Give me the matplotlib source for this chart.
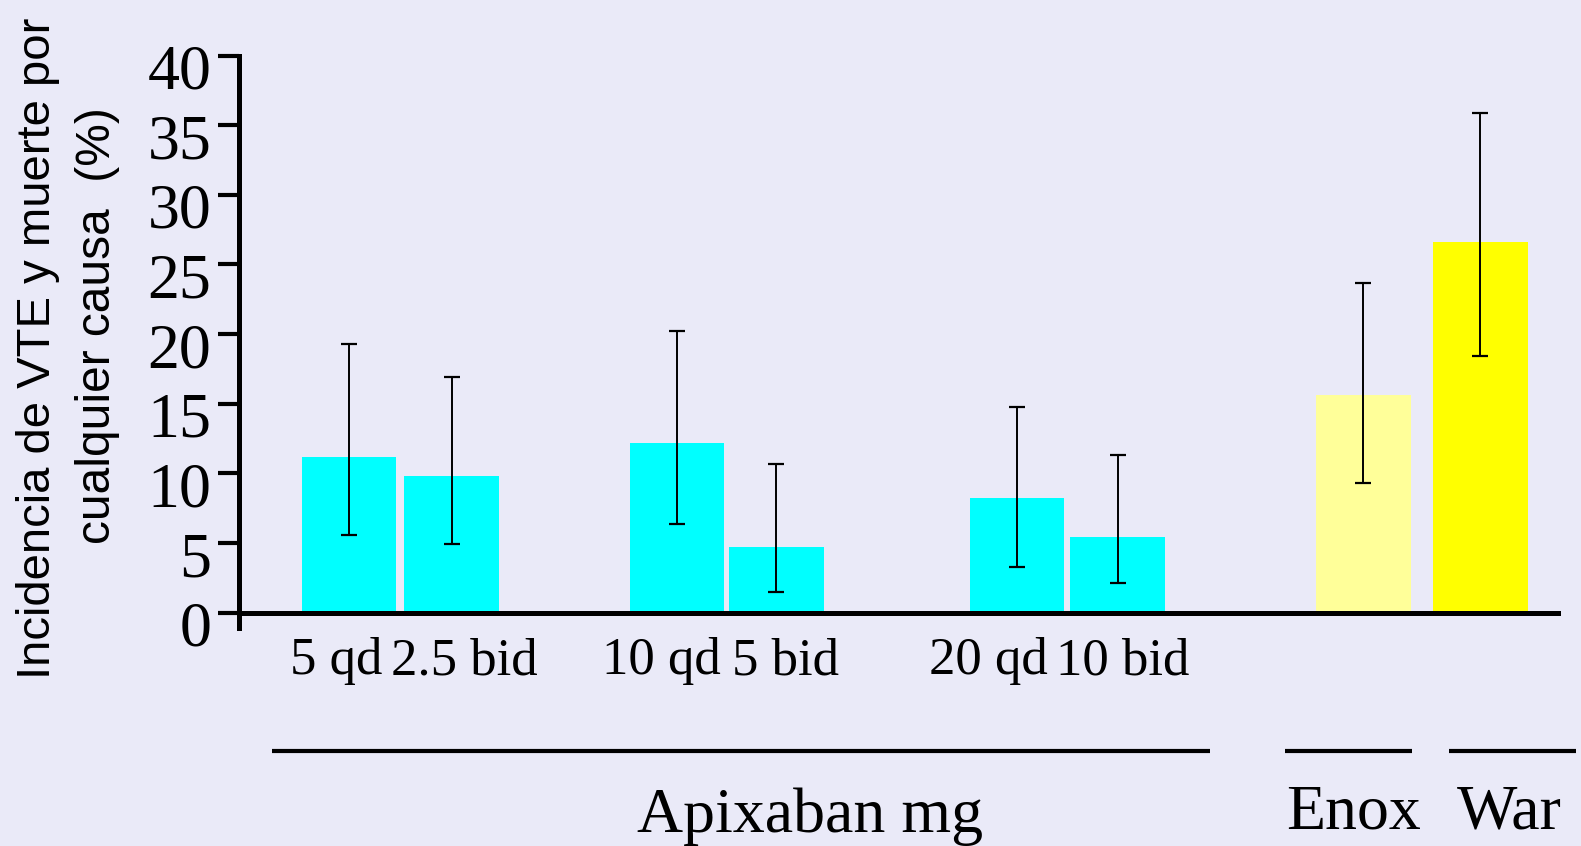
import matplotlib.pyplot as plt
import matplotlib.transforms as mtransforms

# values (%)
groups = ['5 qd', '2.5 bid', '10 qd', '5 bid', '20 qd', '10 bid', 'Enox', 'War']
incidence = [11.2, 9.8, 12.15, 4.7, 8.25, 5.4, 15.6, 26.6]
ci_low = [5.55, 4.9, 6.4, 1.5, 3.3, 2.1, 9.3, 18.4]
ci_high = [19.3, 16.95, 20.2, 10.7, 14.8, 11.3, 23.7, 35.9]
dose_labels = groups[:6]
bar_colors = ['#00FFFF'] * 6 + ['#FFFF99', '#FFFF00']

# layout (x units of 100 px from the y axis)
bar_pos = [1.10, 2.125, 4.38, 5.375, 7.78, 8.785, 11.245, 12.415]
label_pos = [0.975, 2.255, 4.225, 5.47, 7.49, 8.84]
bar_w = 0.945

bg = '#EAEAF8'
serif = 'Liberation Serif'
sans = 'Liberation Sans'

W, H = 1581, 846
fig = plt.figure(figsize=(W / 100, H / 100), dpi=100, facecolor=bg)
ax = fig.add_axes([239 / W, 1 - 628 / H, (1558 - 239) / W, (628 - 55.5) / H])
ax.set_facecolor(bg)

yerr = [[v - lo for v, lo in zip(incidence, ci_low)],
        [hi - v for v, hi in zip(incidence, ci_high)]]
ax.bar(bar_pos, incidence, width=bar_w, color=bar_colors, zorder=2)
ax.errorbar(bar_pos, incidence, yerr=yerr, fmt='none', ecolor='black',
            elinewidth=1.4, capsize=6, capthick=1.6, zorder=3)

ax.set_xlim(0, 13.19)
ax.set_ylim(-1.1, 40)
ax.axhline(0, color='black', lw=3.6, zorder=4, clip_on=False)

for s in ['top', 'right', 'bottom']:
    ax.spines[s].set_visible(False)
ax.spines['left'].set_linewidth(3.6)

ax.set_yticks(range(0, 41, 5))
ax.tick_params(axis='y', length=15, width=3, pad=5, labelsize=46)
for lab in ax.get_yticklabels():
    lab.set_family(serif)
    lab.set_transform(lab.get_transform() +
                      mtransforms.ScaledTranslation(0, -0.11, fig.dpi_scale_trans))

ax.set_xticks(label_pos, dose_labels)
ax.tick_params(axis='x', length=0, pad=6.5, labelsize=38)
for lab in ax.get_xticklabels():
    lab.set_family(serif)

# group brackets under the axis
tr = ax.get_xaxis_transform()
for x0, x1 in [(0.33, 9.71), (10.46, 11.73), (12.10, 13.37)]:
    ax.plot([x0, x1], [-0.215, -0.215], color='black', lw=3, transform=tr,
            clip_on=False, solid_capstyle='butt')
ax.text(5.71, -0.356, 'Apixaban mg', transform=tr, ha='center', va='baseline',
        fontsize=46, family=serif)
ax.text(11.14, -0.351, 'Enox', transform=tr, ha='center', va='baseline',
        fontsize=46, family=serif)
ax.text(12.70, -0.351, 'War', transform=tr, ha='center', va='baseline',
        fontsize=46, family=serif)

# y label, two lines
fig.text(38 / W, 1 - 348 / H, 'Incidencia de VTE y muerte por', rotation=90,
         ha='center', va='center', fontsize=34, family=sans)
fig.text(98 / W, 1 - 326 / H, 'cualquier causa  (%)', rotation=90,
         ha='center', va='center', fontsize=34.5, family=sans)

fig.savefig('out.png', dpi=100, facecolor=bg)
